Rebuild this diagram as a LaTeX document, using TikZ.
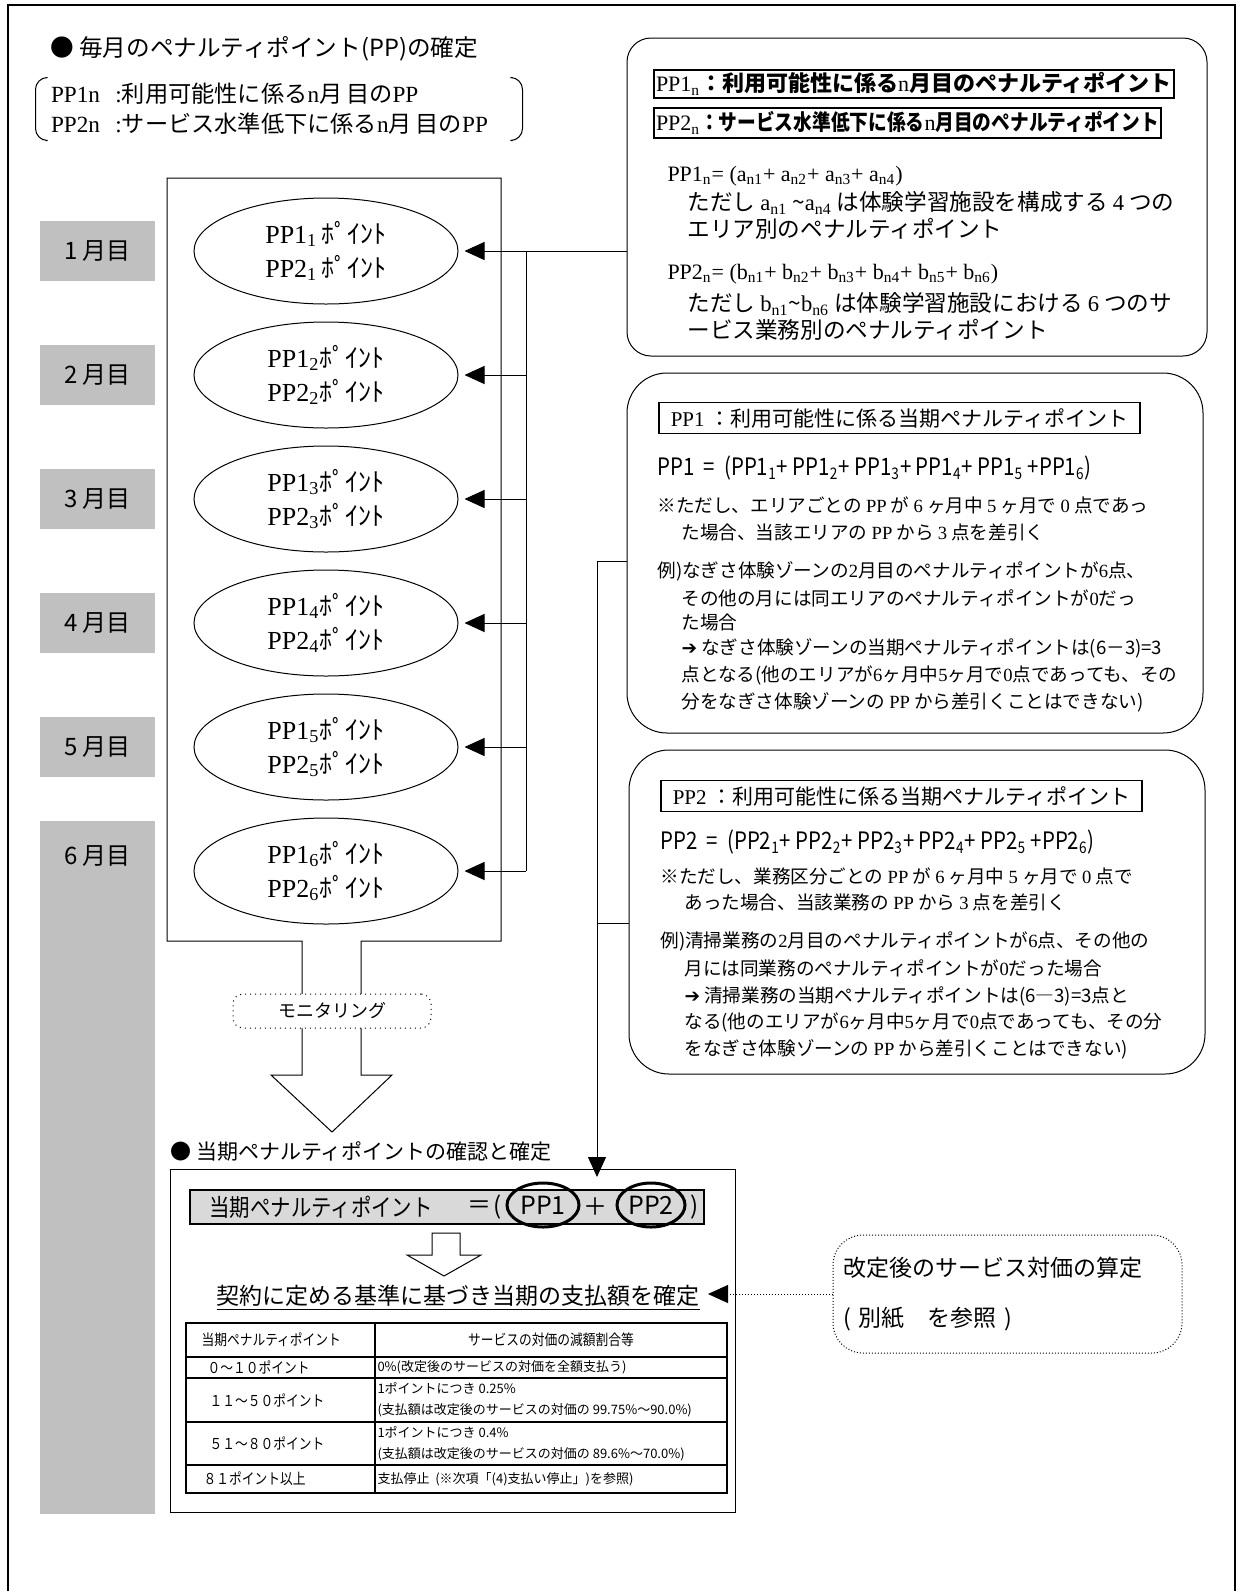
\documentclass[tikz,border=0pt]{standalone}
\usepackage{fontspec}
\setmainfont{Noto Sans CJK JP}
\newfontfamily\sr{Liberation Serif}
\newfontfamily\cond[FakeStretch=0.85]{Noto Sans CJK JP}
\newfontfamily\sym{DejaVu Sans}
\usepackage{tikz}
\usetikzlibrary{positioning,arrows.meta,shapes.geometric}
\definecolor{mongray}{RGB}{192,192,192}
\definecolor{barfill}{RGB}{217,217,217}
\newcommand{\fsz}[2]{\fontsize{#1}{#2}\selectfont}

\begin{document}
\begin{tikzpicture}
		[x=0.5pt,y=-0.5pt,line width=0.5pt,
		every node/.style={inner sep=0pt},
		mon/.style={fill=mongray,minimum width=57.5pt,minimum height=30pt,font=\fsz{12}{14}},
		pnt/.style={draw,ellipse,minimum width=132pt,minimum height=53pt,align=center,font=\fsz{13}{17}},
		feed/.style={-{Triangle[length=10pt,width=9pt]},shorten >=3pt},
		rbox/.style={draw,rounded corners=20pt,minimum width=288pt},
		ttl/.style={anchor=west,font=\fsz{11.8}{14}},
		frm/.style={anchor=west,font=\sr\fsz{11}{13}},
		bld/.style={anchor=west,font=\fsz{11.3}{13}},
		txt/.style={anchor=west,font=\fsz{9.3}{11}},
		hbox/.style={anchor=west,draw,line width=0.8pt,inner xsep=6pt,minimum height=15.5pt,font=\fsz{10.5}{12}},
		sumf/.style={anchor=west,font=\cond\fsz{12}{14}},
		cell/.style={anchor=west,font=\cond\fsz{7.5}{9}},
		tiny/.style={anchor=west,align=left,font=\fsz{6.5}{10.5}}]
	\useasboundingbox (0,0) rectangle (1238,1591);
	\draw[line width=1pt] (8,1591) -- (8,5) -- (1235,5) -- (1235,1591);

	\node[ttl] (ttl1) at (50,49) {●\ 毎月のペナルティポイント(PP)の確定};
	\node[minimum width=243pt,minimum height=31pt,text width=228pt,align=left,inner xsep=7.5pt,font=\fsz{11.6}{15}] (brk) at (279,109)
		{{\sr PP1n\ \ :}利用可能性に係る{\sr n}月\,目の{\sr PP}\\{\sr PP2n\ \ :}サービス水準低下に係る{\sr n}月\,目の{\sr PP}};
	\draw[rounded corners=6pt] ([xshift=5pt]brk.north west) -- (brk.north west) -- (brk.south west) -- ([xshift=5pt]brk.south west);
	\draw[rounded corners=6pt] ([xshift=-5pt]brk.north east) -- (brk.north east) -- (brk.south east) -- ([xshift=-5pt]brk.south east);

	\draw (302,1075) -- (302,941) -- (167,941) -- (167,178) -- (501,178) -- (501,941) -- (361,941) -- (361,1075)
		-- (392,1075) -- (332,1132) -- (271,1075) -- cycle;
	\node[draw,dotted,fill=white,rounded corners=5pt,minimum width=99pt,minimum height=17pt,font=\fsz{9}{11}] (moni) at (332,1011) {モニタリング};

	\node[pnt] (m1) at (326,251) {{\sr PP1\textsubscript{1}}\,ﾎﾟｲﾝﾄ\\{\sr PP2\textsubscript{1}}\,ﾎﾟｲﾝﾄ};
	\node[pnt] (m2) at (326,375) {{\sr PP1\textsubscript{2}}ﾎﾟｲﾝﾄ\\{\sr PP2\textsubscript{2}}ﾎﾟｲﾝﾄ};
	\node[pnt] (m3) at (326,499) {{\sr PP1\textsubscript{3}}ﾎﾟｲﾝﾄ\\{\sr PP2\textsubscript{3}}ﾎﾟｲﾝﾄ};
	\node[pnt] (m4) at (326,623) {{\sr PP1\textsubscript{4}}ﾎﾟｲﾝﾄ\\{\sr PP2\textsubscript{4}}ﾎﾟｲﾝﾄ};
	\node[pnt] (m5) at (326,747) {{\sr PP1\textsubscript{5}}ﾎﾟｲﾝﾄ\\{\sr PP2\textsubscript{5}}ﾎﾟｲﾝﾄ};
	\node[pnt] (m6) at (326,871) {{\sr PP1\textsubscript{6}}ﾎﾟｲﾝﾄ\\{\sr PP2\textsubscript{6}}ﾎﾟｲﾝﾄ};

	\node[mon] (mo1) at (97.5,251) {1 月目};
	\node[mon] (mo2) at (97.5,375) {2 月目};
	\node[mon] (mo3) at (97.5,499) {3 月目};
	\node[mon] (mo4) at (97.5,623) {4 月目};
	\node[mon] (mo5) at (97.5,747) {5 月目};
	\node[mon,minimum height=346.5pt,anchor=north] (mo6) at (97.5,820) {};
	\node[font=\fsz{12}{14}] (mo6t) at (97.5,856) {6 月目};

	\node[draw,rounded corners=12pt,minimum width=290pt,minimum height=159pt] (defbox) at (917,197) {};
	\node[anchor=west,draw,line width=1pt,inner xsep=1pt,minimum height=14pt,font=\bfseries\fsz{11}{13}] (pn1) at (653,84)
		{{\sr\mdseries PP1\textsubscript{n}}：利用可能性に係る{\sr\mdseries n}月目のペナルティポイント};
	\node[anchor=west,draw,line width=1pt,inner xsep=1pt,minimum height=15pt,font=\cond\bfseries\fsz{11}{13}] (pn2) at (653,123)
		{{\sr\mdseries PP2\textsubscript{n}}：サービス水準低下に係る{\sr\mdseries n}月目のペナルティポイント};
	\node[frm] (fa) at (667,176) {PP1\textsubscript{n}= (a\textsubscript{n1}+ a\textsubscript{n2}+ a\textsubscript{n3}+ a\textsubscript{n4})};
	\node[bld] (fa1) at (687,203) {ただし {\sr a\textsubscript{n1}}\ \textasciitilde{\sr a\textsubscript{n4}} は体験学習施設を構成する {\sr 4} つの};
	\node[bld] (fa2) at (687,229) {エリア別のペナルティポイント};
	\node[frm] (fb) at (667,274) {PP2\textsubscript{n}= (b\textsubscript{n1}+ b\textsubscript{n2}+ b\textsubscript{n3}+ b\textsubscript{n4}+ b\textsubscript{n5}+ b\textsubscript{n6})};
	\node[bld] (fb1) at (687,304) {ただし {\sr b\textsubscript{n1}}\textasciitilde{\sr b\textsubscript{n6}} は体験学習施設における {\sr 6} つのサ};
	\node[bld] (fb2) at (687,330) {ービス業務別のペナルティポイント};

	\coordinate (bus) at (526,251);
	\draw[feed] (defbox.west |- m1) -- (m1.east);
	\draw (bus) -- (bus |- m6);
	\draw[feed] (bus |- m2) -- (m2.east);
	\draw[feed] (bus |- m3) -- (m3.east);
	\draw[feed] (bus |- m4) -- (m4.east);
	\draw[feed] (bus |- m5) -- (m5.east);
	\draw[feed] (bus |- m6) -- (m6.east);

	\node[rbox,minimum height=180pt] (pp1box) at (915,553) {};
	\node[hbox] (pp1t) at (658,418) {{\sr PP1} ：利用可能性に係る当期ペナルティポイント};
	\node[sumf] (pp1f) at (657,468) {PP1 \ = \ (PP1\textsubscript{1}+ PP1\textsubscript{2}+ PP1\textsubscript{3}+ PP1\textsubscript{4}+ PP1\textsubscript{5} +PP1\textsubscript{6})};
	\node[txt] (pp1n1) at (657,505) {※ただし、エリアごとの {\sr PP} が {\sr 6} ヶ月中 {\sr 5} ヶ月で {\sr 0} 点であっ};
	\node[txt] (pp1n2) at (681,532) {た場合、当該エリアの {\sr PP} から {\sr 3} 点を差引く};
	\node[txt] (pp1e1) at (657,571) {例)なぎさ体験ゾーンの{\sr 2}月目のペナルティポイントが{\sr 6}点、};
	\node[txt] (pp1e2) at (681,598) {その他の月には同エリアのペナルティポイントが{\sr 0}だっ};
	\node[txt] (pp1e3) at (681,622) {た場合};
	\node[txt] (pp1e4) at (681,648) {{\sym ➔}\ なぎさ体験ゾーンの当期ペナルティポイントは(6－3)=3};
	\node[txt] (pp1e5) at (681,675) {点となる(他のエリアが{\sr 6}ヶ月中{\sr 5}ヶ月で{\sr 0}点であっても、その};
	\node[txt] (pp1e6) at (681,702) {分をなぎさ体験ゾーンの {\sr PP} から差引くことはできない)};

	\node[rbox,minimum height=162pt] (pp2box) at (917,912) {};
	\node[hbox] (pp2t) at (660,796) {{\sr PP2} ：利用可能性に係る当期ペナルティポイント};
	\node[sumf] (pp2f) at (660,842) {PP2 \ = \ (PP2\textsubscript{1}+ PP2\textsubscript{2}+ PP2\textsubscript{3}+ PP2\textsubscript{4}+ PP2\textsubscript{5} +PP2\textsubscript{6})};
	\node[txt] (pp2n1) at (660,876) {※ただし、業務区分ごとの {\sr PP} が {\sr 6} ヶ月中 {\sr 5} ヶ月で {\sr 0} 点で};
	\node[txt] (pp2n2) at (684,902) {あった場合、当該業務の {\sr PP} から {\sr 3} 点を差引く};
	\node[txt] (pp2e1) at (660,941) {例)清掃業務の{\sr 2}月目のペナルティポイントが{\sr 6}点、その他の};
	\node[txt] (pp2e2) at (684,968) {月には同業務のペナルティポイントが{\sr 0}だった場合};
	\node[txt] (pp2e3) at (684,996) {{\sym ➔}\ 清掃業務の当期ペナルティポイントは(6―3)=3点と};
	\node[txt] (pp2e4) at (684,1022) {なる(他のエリアが{\sr 6}ヶ月中{\sr 5}ヶ月で{\sr 0}点であっても、その分};
	\node[txt] (pp2e5) at (684,1049) {をなぎさ体験ゾーンの {\sr PP} から差引くことはできない)};

	\node[ttl,font=\fsz{10.5}{13}] (ttl2) at (170,1151) {●\ 当期ペナルティポイントの確認と確定};
	\node[draw,minimum width=282.5pt,minimum height=171.5pt] (sumbox) at (452.5,1341) {};
	\node[draw,fill=barfill,line width=1pt,minimum width=257pt,minimum height=17pt] (bar) at (447,1207) {};
	\node[anchor=west,font=\cond\fsz{12}{14}] (lhs) at (209,1207) {当期ペナルティポイント};
	\node[font=\fsz{12}{14}] (eq) at (479,1207) {＝};
	\node[font=\fsz{12}{14}] (lp) at (498,1207) {(};
	\node[draw,ellipse,line width=1.5pt,minimum width=36pt,minimum height=22pt,font=\fsz{12.5}{15}] (p1) at (543,1205) {PP1};
	\node[font=\fsz{12}{14}] (pl) at (595,1207) {＋};
	\node[draw,ellipse,line width=1.5pt,minimum width=34pt,minimum height=22pt,font=\fsz{12.5}{15}] (p2) at (651,1205) {PP2};
	\node[font=\fsz{12}{14}] (rp) at (695,1207) {)};

	\coordinate (tap1) at (597,561);
	\coordinate (tap2) at (597,923);
	\draw[feed,shorten >=6pt] (pp1box.west |- tap1) -- (tap1) -- (tap1 |- bar.north);
	\draw (pp2box.west |- tap2) -- (tap2);

	\draw (432,1233) -- (432,1255) -- (407,1255) -- (444,1276) -- (481,1255) -- (460,1255) -- (460,1233) -- cycle;
	\node[anchor=west,inner xsep=4pt,font=\fsz{11.5}{14}] (decide) at (208,1298) {\underline{契約に定める基準に基づき当期の支払額を確定}};

	\draw[line width=1pt] (186,1323) rectangle (727,1493) (375,1323) -- (375,1493)
		(186,1357) -- (727,1357) (186,1378) -- (727,1378) (186,1422) -- (727,1422) (186,1465) -- (727,1465);
	\node[cell] (h1) at (201,1340) {当期ペナルティポイント};
	\node[cell,anchor=center] (h2) at (551,1340) {サービスの対価の減額割合等};
	\node[cell] (r1a) at (207,1367.5) {０～１０ポイント};
	\node[cell] (r2a) at (209,1400) {１１～５０ポイント};
	\node[cell] (r3a) at (209,1443.5) {５１～８０ポイント};
	\node[cell] (r4a) at (203,1479) {８１ポイント以上};
	\node[tiny] (r1b) at (377,1367.5) {0\%(改定後のサービスの対価を全額支払う)};
	\node[tiny] (r2b) at (377,1400) {1ポイントにつき 0.25\%\\(支払額は改定後のサービスの対価の 99.75\%～90.0\%)};
	\node[tiny] (r3b) at (377,1443.5) {1ポイントにつき 0.4\%\\(支払額は改定後のサービスの対価の 89.6\%～70.0\%)};
	\node[tiny] (r4b) at (377,1479) {支払停止\ \ (※次項「(4)支払い停止」)を参照)};

	\node[draw,densely dotted,rounded corners=15pt,minimum width=174.5pt,minimum height=59pt,text width=164pt,align=left,font=\fsz{11.5}{25}] (refbox) at (1007.5,1294)
		{改定後のサービス対価の算定\\( 別紙\quad を参照 )};
	\draw[densely dotted,-{Triangle[length=10pt,width=9pt]}] (refbox.west) -- (refbox.west -| decide.east);
\end{tikzpicture}
\end{document}
